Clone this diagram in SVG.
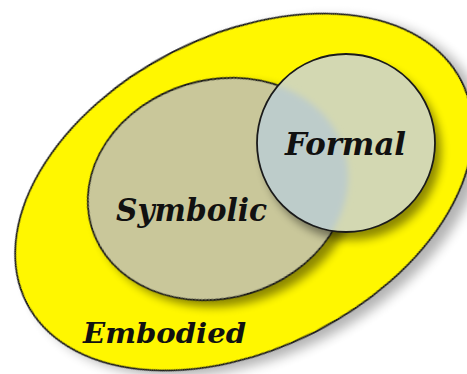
<svg xmlns="http://www.w3.org/2000/svg" width="467" height="374" viewBox="0 0 467 374">
  <defs>
    <style>
      .lbl { font-family: "DejaVu Serif", "Liberation Serif", serif; font-weight: bold; font-style: italic; fill: #111; }
      .edge { stroke: #1a1a1a; stroke-width: 1.8; }
    </style>
    <filter id="outerShadow" x="-20%" y="-20%" width="140%" height="140%">
      <feGaussianBlur in="SourceAlpha" stdDeviation="6"/>
      <feOffset dx="7" dy="9" result="b"/>
      <feComponentTransfer><feFuncA type="linear" slope="0.3"/></feComponentTransfer>
      <feMerge><feMergeNode/><feMergeNode in="SourceGraphic"/></feMerge>
    </filter>
    <filter id="innerShadow" x="-20%" y="-20%" width="140%" height="140%">
      <feGaussianBlur in="SourceAlpha" stdDeviation="5"/>
      <feOffset dx="6" dy="8" result="b"/>
      <feComponentTransfer><feFuncA type="linear" slope="0.45"/></feComponentTransfer>
      <feMerge><feMergeNode/><feMergeNode in="SourceGraphic"/></feMerge>
    </filter>
    <filter id="soft" x="-10%" y="-10%" width="120%" height="120%">
      <feGaussianBlur stdDeviation="3"/>
    </filter>
    <clipPath id="circleClip">
      <circle cx="346" cy="143" r="89"/>
    </clipPath>
  </defs>

  <g id="embodied">
    <ellipse cx="244" cy="192" rx="244" ry="157" transform="rotate(-27 244 192)" fill="#FFF700" class="edge" filter="url(#outerShadow)"/>
    <text class="lbl" x="83" y="343" font-size="27" textLength="163" lengthAdjust="spacingAndGlyphs">Embodied</text>
  </g>

  <g id="symbolic">
    <ellipse cx="218" cy="189" rx="132" ry="109" transform="rotate(-17 218 189)" fill="#C9C79A" class="edge" filter="url(#innerShadow)"/>
    <text class="lbl" x="116" y="221" font-size="31" textLength="151" lengthAdjust="spacingAndGlyphs">Symbolic</text>
  </g>

  <g id="formal">
    <circle cx="346" cy="143" r="89" fill="#D3D8B2" filter="url(#innerShadow)"/>
    <g clip-path="url(#circleClip)">
      <ellipse cx="218" cy="189" rx="132" ry="109" transform="rotate(-17 218 189)" fill="#BDCCCA" filter="url(#soft)"/>
    </g>
    <circle cx="346" cy="143" r="89" fill="none" class="edge"/>
    <text class="lbl" x="285" y="155" font-size="31" textLength="121" lengthAdjust="spacingAndGlyphs">Formal</text>
  </g>
</svg>
